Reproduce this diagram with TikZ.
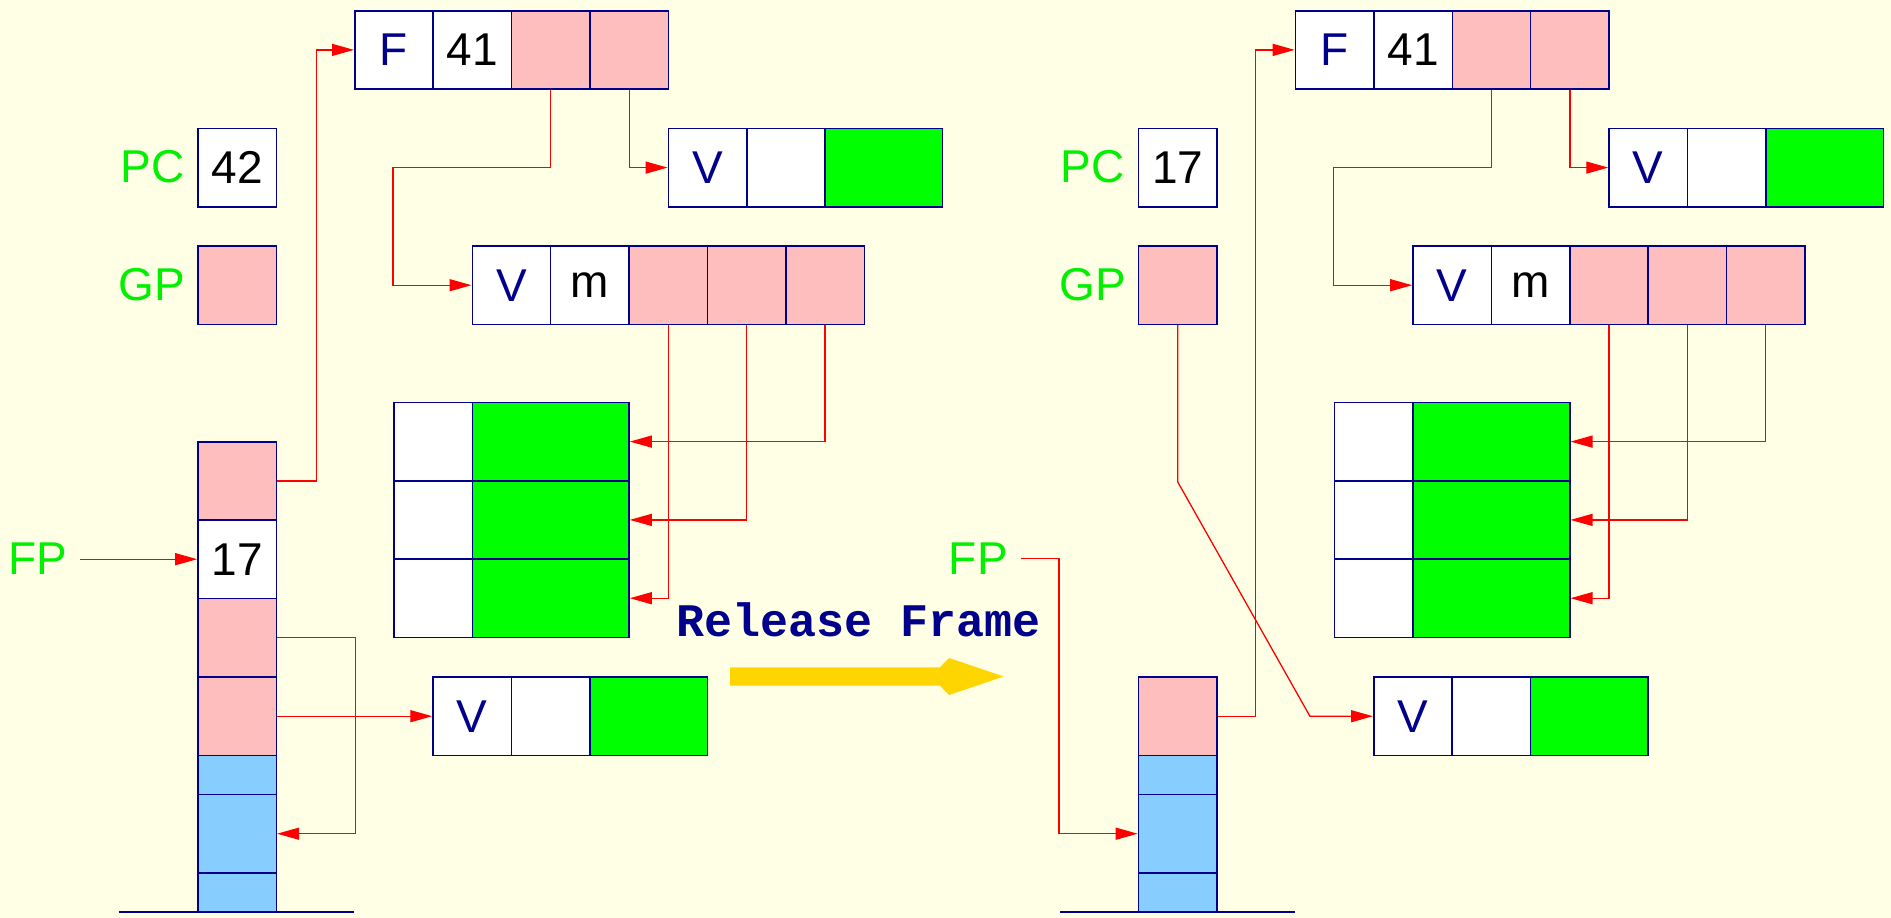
\documentclass[tikz,border=0pt]{standalone}
\usepackage{fontspec}
\setmainfont{Liberation Sans}
\newfontfamily\relfont{Liberation Mono}
\usetikzlibrary{arrows.meta}
\definecolor{bgc}{RGB}{255,255,230}
\definecolor{navyc}{RGB}{0,0,140}
\definecolor{pinkc}{RGB}{255,190,190}
\definecolor{greenc}{RGB}{0,255,0}
\definecolor{bluec}{RGB}{135,206,255}
\definecolor{goldc}{RGB}{255,213,0}
\definecolor{labc}{RGB}{0,240,0}
\newcommand\cellfont{\fontsize{46}{55}\selectfont}
\tikzset{
  cell/.style={draw=navyc, line width=1.5pt, fill=white, minimum width=78.4pt,
    minimum height=78.3pt, inner sep=0pt, anchor=north west, font=\cellfont},
  pinkcell/.style={cell, fill=pinkc},
  greencell/.style={cell, fill=greenc},
  bluecell/.style={cell, fill=bluec},
  widecell/.style={minimum width=117.5pt},
  ptr/.style={draw=red, line width=1.3pt, -{Triangle[length=22pt,width=12pt]}},
  reg/.style={text=labc, font=\cellfont, inner sep=0pt, anchor=east},
  ground/.style={draw=navyc, line width=1.8pt},
}
\newcommand\heapdraw[2]{%
\begin{scope}[xshift=#2]
  \node[cell] (#1F1) at (354,10) {\textcolor{navyc}{F}};
  \node[cell] (#1F2) at (432.4,10) {41};
  \node[pinkcell] (#1F3) at (510.8,10) {};
  \node[pinkcell] (#1F4) at (589.2,10) {};
  \node[cell] (#1tV1) at (667.6,127.7) {\textcolor{navyc}{V}};
  \node[cell] (#1tV2) at (746,127.7) {};
  \node[greencell, widecell] (#1tV3) at (824.4,127.7) {};
  \node[cell] (#1Vm1) at (471.5,245.3) {\textcolor{navyc}{V}};
  \node[cell] (#1Vm2) at (549.9,245.3) {m};
  \node[pinkcell] (#1Vm3) at (628.3,245.3) {};
  \node[pinkcell] (#1Vm4) at (706.7,245.3) {};
  \node[pinkcell] (#1Vm5) at (785.1,245.3) {};
  \foreach \r/\yy in {1/401.7,2/480,3/558.3}{
    \node[cell] (#1gA\r) at (393.1,\yy) {};
    \node[greencell, minimum width=156.8pt] (#1gB\r) at (471.5,\yy) {};
  }
  \node[cell] (#1bV1) at (432.3,676.3) {\textcolor{navyc}{V}};
  \node[cell] (#1bV2) at (510.7,676.3) {};
  \node[greencell, widecell] (#1bV3) at (589.1,676.3) {};
  \draw[ptr] (#1F3.south) |- (#1gA1.west |- #1tV1.west) |- (#1Vm1.west);
  \draw[ptr] (#1F4.south) |- (#1tV1.west);
  \draw[ptr] (#1Vm5.south) |- (#1gB1.east);
  \draw[ptr] (#1Vm4.south) |- (#1gB2.east);
  \draw[ptr] (#1Vm3.south) |- (#1gB3.east);
\end{scope}}
\begin{document}
\begin{tikzpicture}[x=1pt, y=-1pt]
  \fill[bgc] (0,0) rectangle (1891,918);
  \useasboundingbox (0,0) rectangle (1891,918);

  % ---------- left state ----------
  \heapdraw{L}{0pt}
  \node[reg] (lPC) at (184.5,166.9) {PC};
  \node[cell] (PC) at (197.2,127.7) {42};
  \node[reg] (lGP) at (185.5,284.4) {GP};
  \node[pinkcell] (GP) at (197.2,245.3) {};
  \node[reg] (lFP) at (67.4,558.5) {FP};

  \node[pinkcell] (s1) at (197.2,441) {};
  \node[cell] (s2) at (197.2,519.3) {17};
  \node[pinkcell] (s3) at (197.2,597.7) {};
  \node[pinkcell] (s4) at (197.2,676.3) {};
  \node[bluecell, minimum height=39.2pt] (s5) at (197.2,754.6) {};
  \node[bluecell] (s6) at (197.2,793.8) {};
  \node[bluecell, minimum height=39.6pt] (s7) at (197.2,872.1) {};
  \draw[ground] (118.8,911.7) -- (354,911.7);

  \draw[ptr] (s1.east) -- ++(39.2,0) |- (LF1.west);
  \draw[ptr] ([xshift=12.2pt]lFP.east |- s2.west) -- (s2.west);
  \draw[ptr] (s3.east) -- ++(78.4,0) |- (s6.east);
  \draw[ptr] (s4.east) -- (LbV1.west);

  % ---------- transition ----------
  \node[anchor=base, text=navyc, inner sep=0pt,
        font=\relfont\bfseries\fontsize{46.7}{56}\selectfont] (rel) at (858.9,636.5) {Release Frame};
  \fill[goldc] (730,667.3) -- (940,667.3) -- (949,658) -- (1003.7,676.5)
      -- (949,695) -- (940,685.7) -- (730,685.7) -- cycle;

  % ---------- right state ----------
  \heapdraw{R}{940.7pt}
  \node[reg] (rlPC) at (1125,166.9) {PC};
  \node[cell] (rPC) at (1137.7,127.7) {17};
  \node[reg] (rlGP) at (1126,284.4) {GP};
  \node[pinkcell] (rGP) at (1137.7,245.3) {};
  \node[reg] (rlFP) at (1007.9,558.5) {FP};

  \node[pinkcell] (rs1) at (1137.7,676.3) {};
  \node[bluecell, minimum height=39.2pt] (rs2) at (1137.7,754.6) {};
  \node[bluecell] (rs3) at (1137.7,793.8) {};
  \node[bluecell, minimum height=39.6pt] (rs4) at (1137.7,872.1) {};
  \draw[ground] (1059.5,911.7) -- (1294.8,911.7);

  \draw[ptr] (rs1.east) -- ++(38.2,0) |- (RF1.west);
  \draw[ptr] ([xshift=12.8pt]rlFP.east) -- ++(38.2,0) |- (rs3.west);
  \draw[ptr] (rGP.south) -- ++(0,156.7) -- ([xshift=-63.1pt]RbV1.west) -- (RbV1.west);
\end{tikzpicture}
\end{document}
